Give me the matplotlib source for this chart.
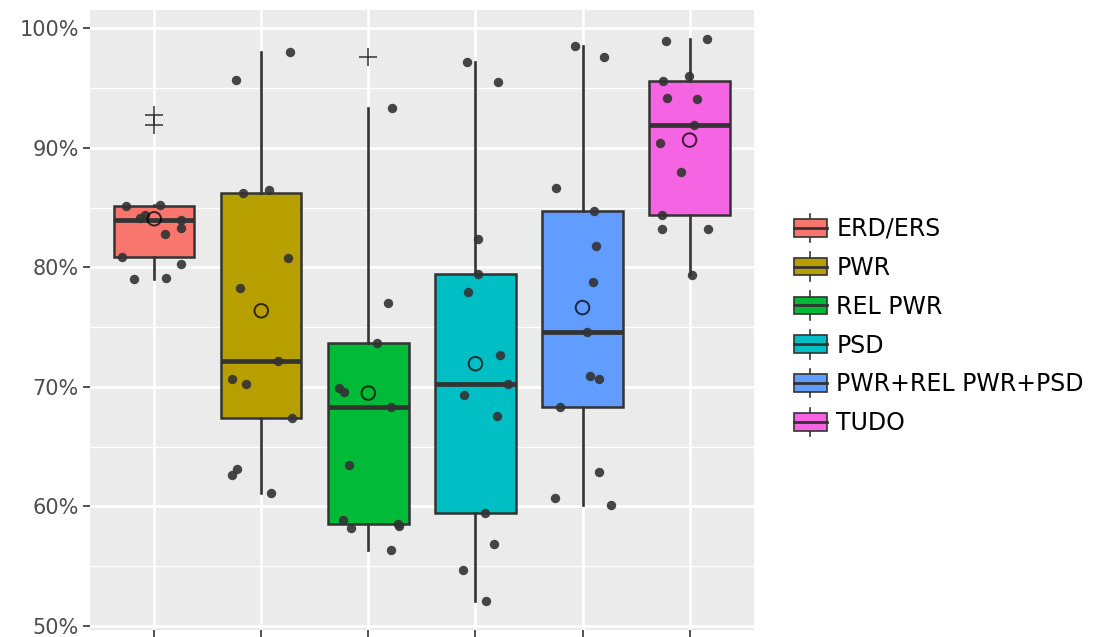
import numpy as np
import matplotlib
matplotlib.use('Agg')
from matplotlib import pyplot as plt
from matplotlib.patches import Patch, Rectangle
from matplotlib.lines import Line2D
from matplotlib.legend_handler import HandlerBase

# accuracy per subject (%), 13 subjects per feature set
categories = ['ERD/ERS', 'PWR', 'REL PWR', 'PSD', 'PWR+REL PWR+PSD', 'TUDO']
colors = ['#F8766D', '#B79F00', '#00BA38', '#00BFC4', '#619CFF', '#F564E3']

erd_ers = [79.0, 79.1, 80.3, 80.9, 82.8, 83.3, 83.95, 84.1, 84.4, 85.1, 85.2, 91.9, 92.7]
pwr = [98.0, 95.65, 86.2, 86.5, 80.8, 78.3, 72.2, 70.7, 70.2, 67.4, 63.1, 62.6, 61.1]
rel_pwr = [97.6, 93.3, 77.0, 73.7, 69.9, 69.55, 68.3, 63.5, 58.9, 58.2, 58.4, 58.5, 56.4]
psd = [97.15, 95.5, 82.35, 79.4, 77.9, 72.7, 70.2, 69.3, 67.6, 59.45, 56.85, 54.7, 52.1]
combo = [98.5, 97.6, 86.6, 84.7, 81.8, 78.8, 74.6, 70.9, 70.7, 68.3, 62.9, 60.7, 60.1]
tudo = [98.9, 99.1, 96.0, 95.6, 94.15, 94.1, 91.9, 90.4, 88.0, 84.4, 83.2, 83.2, 79.35]

# horizontal jitter (fraction of category spacing)
jit_erd = [-0.19, 0.11, 0.25, -0.30, 0.10, 0.25, 0.25, -0.13, -0.09, -0.26, 0.05, 0, 0]
jit_pwr = [0.27, -0.24, -0.17, 0.07, 0.25, -0.20, 0.16, -0.27, -0.14, 0.29, -0.23, -0.27, 0.09]
jit_rel = [0, 0.22, 0.18, 0.08, -0.27, -0.23, 0.21, -0.18, -0.24, -0.16, 0.29, 0.28, 0.21]
jit_psd = [-0.08, 0.21, 0.02, 0.02, -0.07, 0.23, 0.30, -0.11, 0.20, 0.09, 0.17, -0.12, 0.10]
jit_combo = [-0.07, 0.20, -0.25, 0.11, 0.13, 0.10, 0.04, 0.07, 0.15, -0.21, 0.15, -0.26, 0.27]
jit_tudo = [-0.22, 0.16, -0.01, -0.25, -0.21, 0.07, 0.04, -0.28, -0.08, -0.26, -0.26, 0.17, 0.02]

yticks = [50, 60, 70, 80, 90, 100]
ytick_labels = ['50%', '60%', '70%', '80%', '90%', '100%']

data = [erd_ers, pwr, rel_pwr, psd, combo, tudo]
jitter = [jit_erd, jit_pwr, jit_rel, jit_psd, jit_combo, jit_tudo]
pos = np.arange(1, len(data) + 1)
edge = '#333333'

plt.rcParams['font.family'] = ['DejaVu Sans']

fig = plt.figure(figsize=(11.12, 6.37), dpi=100)
ax = fig.add_axes([0.0809, 0.011, 0.597, 0.973])
ax.set_facecolor('#EBEBEB')
for s in ax.spines.values():
    s.set_visible(False)

bp = ax.boxplot(data, positions=pos, widths=0.75, patch_artist=True, showcaps=False,
                boxprops=dict(edgecolor=edge, linewidth=1.8),
                whiskerprops=dict(color=edge, linewidth=1.9),
                medianprops=dict(color=edge, linewidth=3.4),
                flierprops=dict(marker='+', markersize=13, markeredgecolor=edge,
                                markeredgewidth=1.1, linestyle='none'),
                zorder=3)
for patch, c in zip(bp['boxes'], colors):
    patch.set_facecolor(c)

# jittered points (outliers are only shown as +)
for i, (vals, jit) in enumerate(zip(data, jitter)):
    lo = bp['whiskers'][2 * i].get_ydata()[1]
    hi = bp['whiskers'][2 * i + 1].get_ydata()[1]
    v = np.array(vals)
    j = np.array(jit)
    keep = (v >= lo) & (v <= hi)
    ax.scatter(pos[i] + j[keep], v[keep], s=46, color='#333333', alpha=0.9,
               linewidths=0, zorder=4)

means = [np.mean(v) for v in data]
ax.scatter(pos, means, s=95, facecolors='none', edgecolors='black', alpha=0.75,
           linewidths=1.4, zorder=5)

ax.set_xlim(0.4, 6.6)
ax.set_ylim(49.67, 101.5)
ax.set_yticks(yticks)
ax.set_yticklabels(ytick_labels)
ax.set_yticks([55, 65, 75, 85, 95], minor=True)
ax.set_xticks(pos)
ax.set_xticklabels([''] * len(pos))
ax.tick_params(axis='both', which='major', length=5, width=1.2, color=edge,
               labelcolor='#4D4D4D', labelsize=15, pad=3)
ax.tick_params(axis='y', which='minor', length=0)
ax.grid(True, which='major', color='white', linewidth=2.0, zorder=0)
ax.grid(True, which='minor', axis='y', color='white', linewidth=1.0, zorder=0)
ax.set_axisbelow(True)


class BoxKey(HandlerBase):
    def create_artists(self, legend, orig_handle, xdescent, ydescent, width,
                       height, fontsize, trans):
        x0, y0 = -xdescent, -ydescent
        cx = x0 + width / 2
        wl = Line2D([cx, cx], [y0 - 0.3 * height, y0 + 1.3 * height], color=edge,
                    linewidth=1.2, transform=trans)
        box = Rectangle((x0, y0), width, height, facecolor=orig_handle.get_facecolor(),
                        edgecolor=edge, linewidth=1.2, transform=trans)
        med = Line2D([x0, x0 + width], [y0 + height / 2] * 2, color=edge,
                     linewidth=2.0, transform=trans)
        return [wl, box, med]


handles = [Patch(facecolor=c, label=n) for c, n in zip(colors, categories)]
fig.legend(handles=handles, loc='center left', bbox_to_anchor=(0.714, 0.488),
           frameon=False, fontsize=17, handlelength=1.4, handleheight=0.78,
           handletextpad=0.4, labelspacing=0.63, borderpad=0, borderaxespad=0,
           handler_map={Patch: BoxKey()})

plt.savefig('out.png', dpi=100)
